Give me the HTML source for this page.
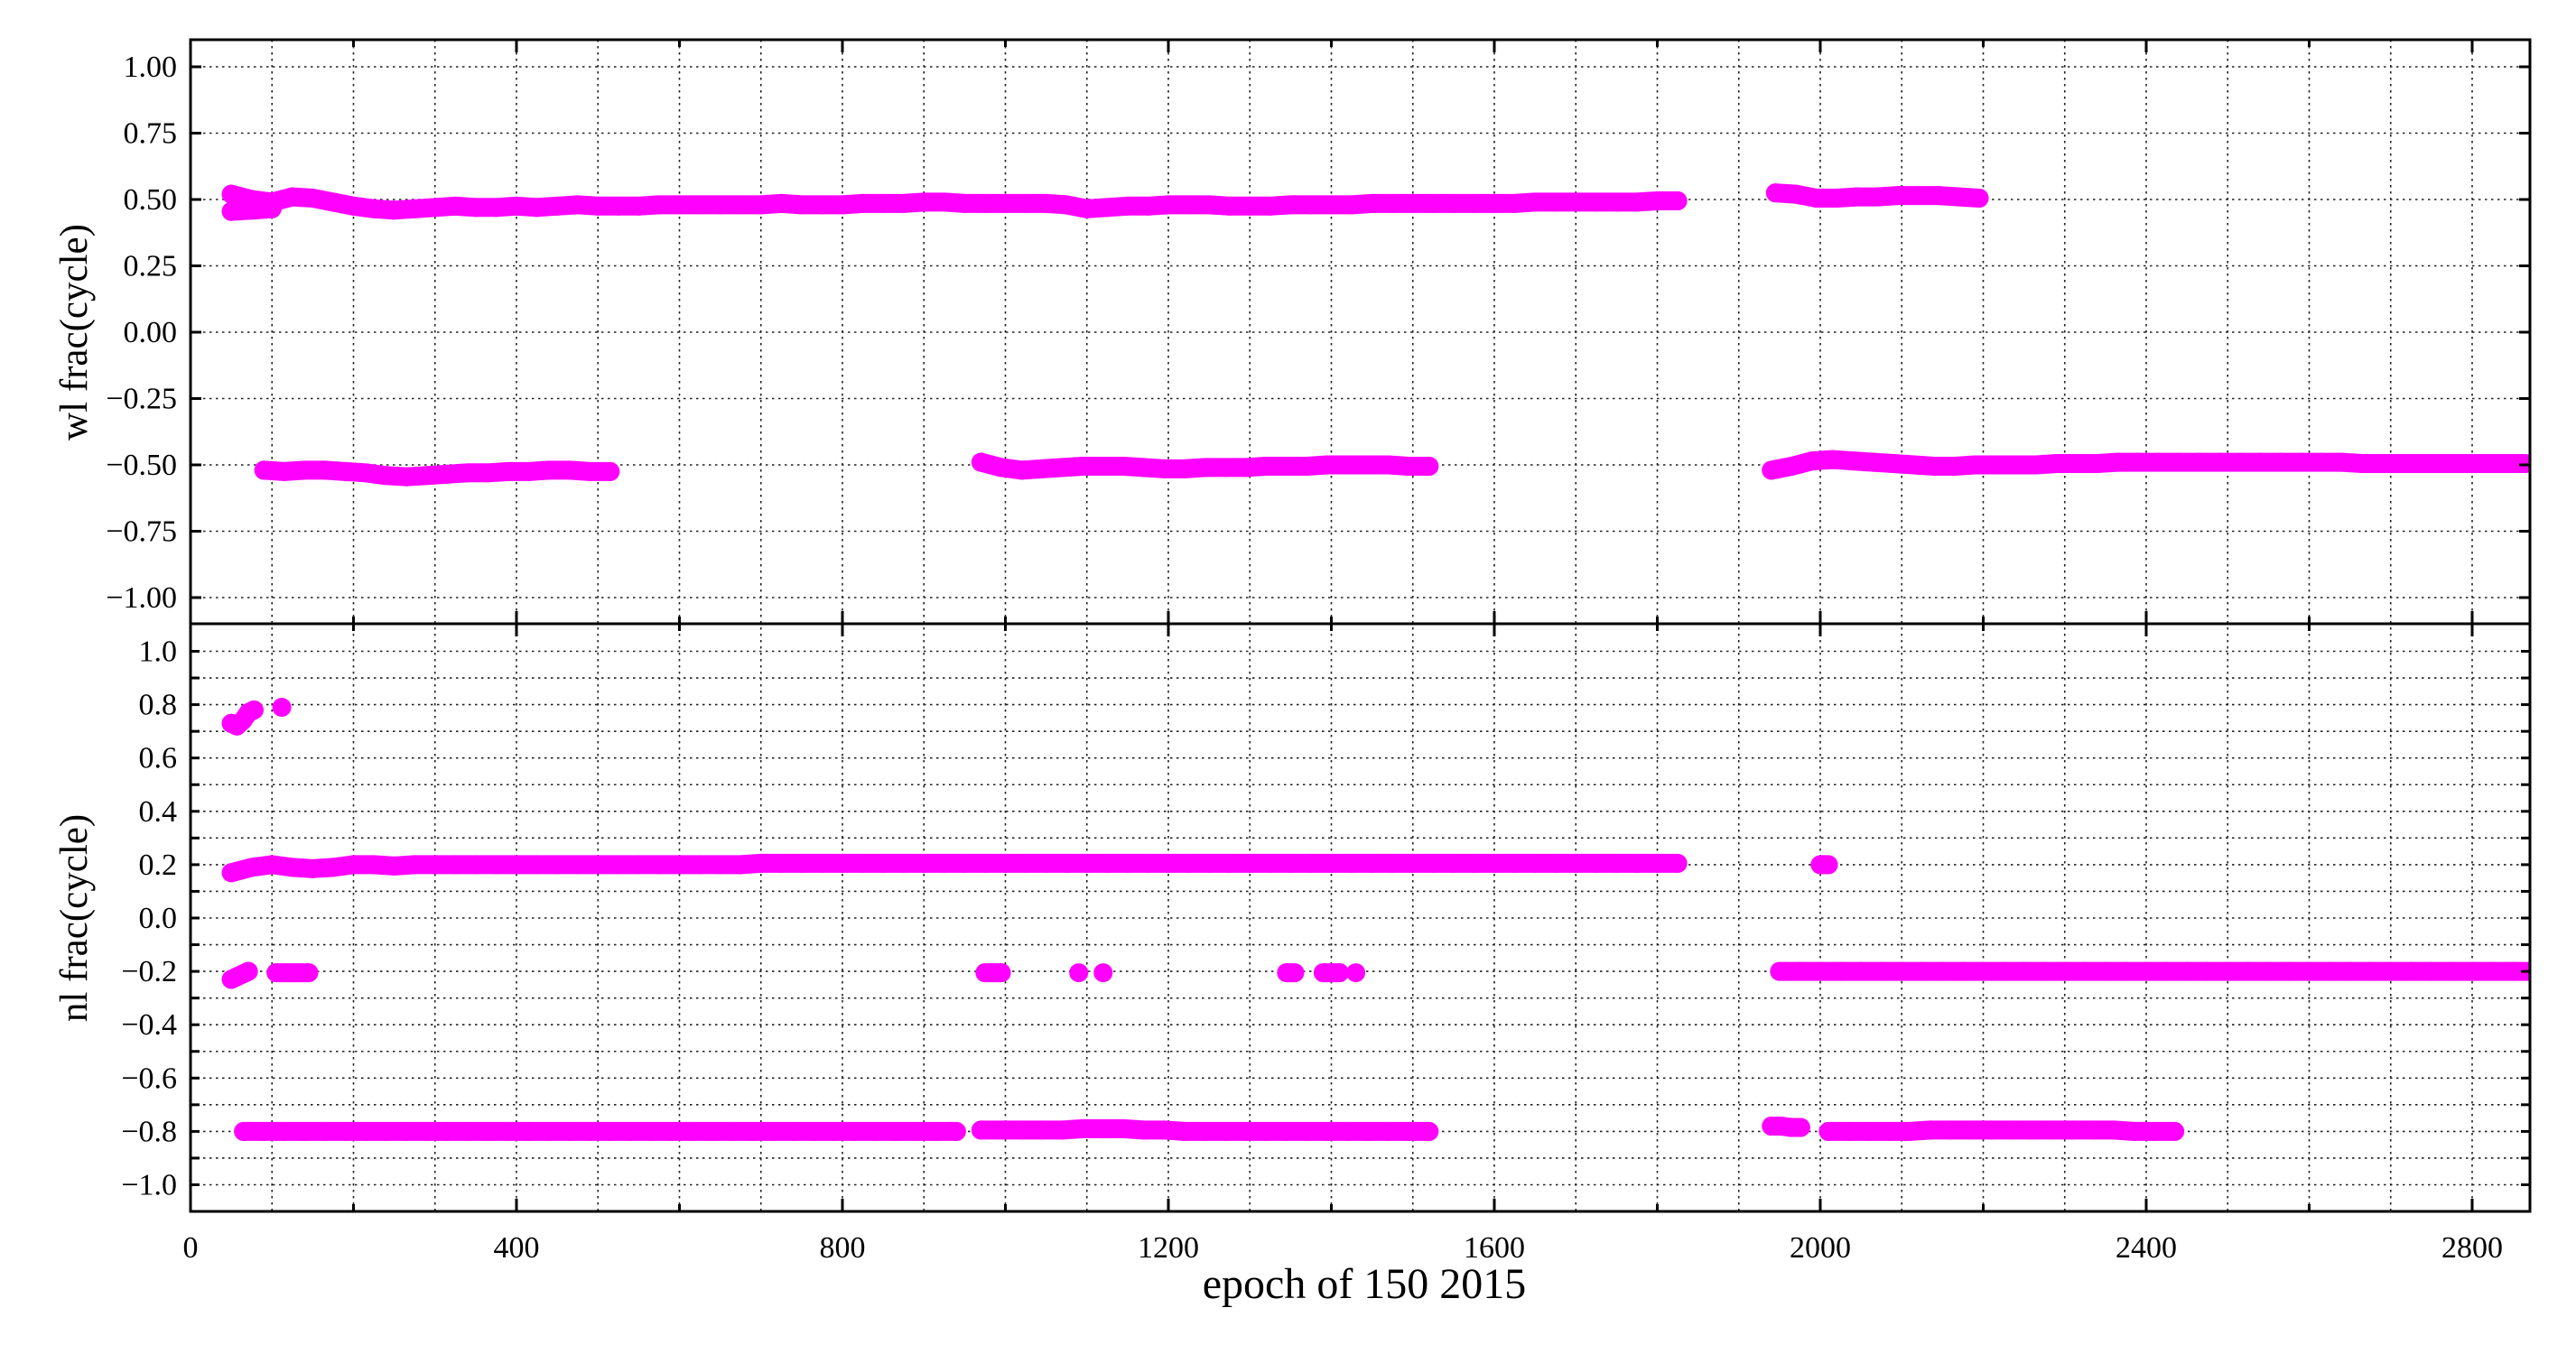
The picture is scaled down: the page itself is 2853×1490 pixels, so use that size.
<!DOCTYPE html>
<html><head><meta charset="utf-8"><style>
html,body{margin:0;padding:0;background:#fff;}
svg{display:block;font-family:"Liberation Serif","DejaVu Serif",serif;}
</style></head><body>
<svg id="chart" width="2853" height="1490" viewBox="0 0 2853 1490" xmlns="http://www.w3.org/2000/svg">
<defs><clipPath id="plotclip"><rect x="211" y="44" width="2591" height="1298"/></clipPath></defs>
<rect width="2853" height="1490" fill="#fff"/>
<g id="grid"></g>
<g id="marks" clip-path="url(#plotclip)"></g>
<g id="axes"></g>
<text x="0" y="0" transform="translate(96,368) rotate(-90)" text-anchor="middle" font-size="43">wl frac(cycle)</text>
<text x="0" y="0" transform="translate(96,1017) rotate(-90)" text-anchor="middle" font-size="43">nl frac(cycle)</text>
<text x="1511" y="1438" text-anchor="middle" font-size="48">epoch of 150 2015</text>
</svg>
<script>
// ---- data: top panel (wl) segments: start epoch, epoch step, values ----
const wlStarts=[50,50,1945,90,970,1940];
const wlSteps=[25,25,25,25,25,25];
const wlA=[0.52,0.50,0.49,0.51,0.505,0.49,0.475,0.465,0.46,0.465,0.47,0.475,0.47,0.47,0.475,0.47,0.475,0.48,0.475,0.475,
0.475,0.48,0.48,0.48,0.48,0.48,0.48,0.485,0.48,0.48,0.48,0.485,0.485,0.485,0.49,0.49,0.485,0.485,0.485,0.485,
0.485,0.48,0.465,0.47,0.475,0.475,0.48,0.48,0.48,0.475,0.475,0.475,0.48,0.48,0.48,0.48,0.485,0.485,0.485,0.485,
0.485,0.485,0.485,0.485,0.49,0.49,0.49,0.49,0.49,0.49,0.495,0.495];
const wlA2=[0.455,0.46,0.465];
const wlB=[0.525,0.52,0.505,0.505,0.51,0.51,0.515,0.515,0.515,0.51,0.505];
const wlC=[-0.52,-0.525,-0.52,-0.52,-0.525,-0.53,-0.54,-0.545,-0.54,-0.535,-0.53,-0.53,-0.525,-0.525,-0.52,-0.52,-0.525,-0.525];
const wlD=[-0.49,-0.51,-0.52,-0.515,-0.51,-0.505,-0.505,-0.505,-0.51,-0.515,-0.515,-0.51,-0.51,-0.51,-0.505,-0.505,-0.505,-0.5,-0.5,-0.5,-0.5,-0.505,-0.505];
const wlE=[-0.52,-0.505,-0.485,-0.48,-0.485,-0.49,-0.495,-0.5,-0.505,-0.505,-0.5,-0.5,-0.5,-0.5,-0.495,-0.495,-0.495,-0.49,-0.49,-0.49,-0.49,-0.49,-0.49,-0.49,-0.49,-0.49,-0.49,-0.49,-0.49,-0.495,-0.495,-0.495,-0.495,-0.495,-0.495,-0.495,-0.495,-0.495];
// ---- data: bottom panel (nl) segments ----
const nlStarts=[50,112,50,2000,50,105,975,1090,1120,1345,1390,1430,1950,65,970,1940,2010];
const nlSteps=[7,10,25,10,7,10,10,10,10,10,10,10,25,25,25,12,25];
const nlHi=[0.73,0.72,0.74,0.77,0.78];
const nlHiDot=[0.79];
const nlP2=[0.17,0.19,0.2,0.19,0.185,0.19,0.2,0.2,0.195,0.2,0.2,0.2,0.2,0.2,0.2,0.2,0.2,0.2,0.2,0.2,
0.2,0.2,0.2,0.2,0.2,0.2,0.205,0.205,0.205,0.205,0.205,0.205,0.205,0.205,0.205,0.205,0.205,0.205,0.205,0.205,
0.205,0.205,0.205,0.205,0.205,0.205,0.205,0.205,0.205,0.205,0.205,0.205,0.205,0.205,0.205,0.205,0.205,0.205,0.205,0.205,
0.205,0.205,0.205,0.205,0.205,0.205,0.205,0.205,0.205,0.205,0.205,0.205];
const nlP2b=[0.2,0.2];
const nlM2a=[-0.23,-0.22,-0.21,-0.2];
const nlM2b=[-0.205,-0.205,-0.205,-0.205,-0.205];
const nlM2c=[-0.205,-0.205,-0.205];
const nlM2d=[-0.205];
const nlM2e=[-0.205];
const nlM2f=[-0.205,-0.205];
const nlM2g=[-0.205,-0.205,-0.205];
const nlM2h=[-0.205];
const nlM2band=[-0.2,-0.2,-0.2,-0.2,-0.2,-0.2,-0.2,-0.2,-0.2,-0.2,-0.2,-0.2,-0.2,-0.2,-0.2,-0.2,-0.2,-0.2,-0.2,-0.2,-0.2,-0.2,-0.2,-0.2,-0.2,-0.2,-0.2,-0.2,-0.2,-0.2,-0.2,-0.2,-0.2,-0.2,-0.2,-0.2,-0.2,-0.2];
const nlM8a=[-0.8,-0.8,-0.8,-0.8,-0.8,-0.8,-0.8,-0.8,-0.8,-0.8,-0.8,-0.8,-0.8,-0.8,-0.8,-0.8,-0.8,-0.8,-0.8,-0.8,-0.8,-0.8,-0.8,-0.8,-0.8,-0.8,-0.8,-0.8,-0.8,-0.8,-0.8,-0.8,-0.8,-0.8,-0.8,-0.8];
const nlM8b=[-0.795,-0.795,-0.795,-0.795,-0.795,-0.79,-0.79,-0.79,-0.795,-0.795,-0.8,-0.8,-0.8,-0.8,-0.8,-0.8,-0.8,-0.8,-0.8,-0.8,-0.8,-0.8,-0.8];
const nlM8c=[-0.78,-0.78,-0.785,-0.785];
const nlM8d=[-0.8,-0.8,-0.8,-0.8,-0.8,-0.795,-0.795,-0.795,-0.795,-0.795,-0.795,-0.795,-0.795,-0.795,-0.795,-0.8,-0.8,-0.8];
// ---- tick labels ----
const xTickLabels=["0","400","800","1200","1600","2000","2400","2800"];
const topYTickLabels=["1.00","0.75","0.50","0.25","0.00","\u22120.25","\u22120.50","\u22120.75","\u22121.00"];
const botYTickLabels=["1.0","0.8","0.6","0.4","0.2","0.0","\u22120.2","\u22120.4","\u22120.6","\u22120.8","\u22121.0"];

const wlSeries=[wlA,wlA2,wlB,wlC,wlD,wlE];
const nlSeries=[nlHi,nlHiDot,nlP2,nlP2b,nlM2a,nlM2b,nlM2c,nlM2d,nlM2e,nlM2f,nlM2g,nlM2h,nlM2band,nlM8a,nlM8b,nlM8c,nlM8d];

const L=211,R=2802,T=44,M=691,B=1342;
const X=e=>L+e*0.9025;
const YT=v=>368-v*294;
const YB=v=>1017-v*295.5;
const NS="http://www.w3.org/2000/svg";
function mk(tag,parent,attrs){const el=document.createElementNS(NS,tag);for(const k in attrs)el.setAttribute(k,attrs[k]);parent.appendChild(el);return el;}
const grid=document.getElementById('grid'),marks=document.getElementById('marks'),axes=document.getElementById('axes');
const gs={stroke:"#222","stroke-width":1.6,"stroke-dasharray":"2.5 4.5"};
for(let e=100;e<=2800;e+=100){
  const g=mk('line',grid,Object.assign({x1:X(e),x2:X(e),y1:T,y2:B},gs));
  
  
}
for(let i=0;i<topYTickLabels.length;i++){
  const v=1-i*0.25,y=YT(v);
  const g=mk('line',grid,Object.assign({x1:L,x2:R,y1:y,y2:y},gs));
  
  
  mk('line',axes,{x1:L,x2:L+12,y1:y,y2:y,stroke:"#000","stroke-width":3});
  mk('line',axes,{x1:R-12,x2:R,y1:y,y2:y,stroke:"#000","stroke-width":3});
  const t=mk('text',axes,{x:196,y:y+11,"text-anchor":"end","font-size":34});
  t.textContent=topYTickLabels[i];
  
  
}
for(let k=-10;k<=10;k++){
  const v=k/10,y=YB(v);
  const g=mk('line',grid,Object.assign({x1:L,x2:R,y1:y,y2:y},gs));
  
  
  mk('line',axes,{x1:L,x2:L+10,y1:y,y2:y,stroke:"#000","stroke-width":3});
  mk('line',axes,{x1:R-10,x2:R,y1:y,y2:y,stroke:"#000","stroke-width":3});
}
for(let i=0;i<botYTickLabels.length;i++){
  const v=1-i*0.2,y=YB(v);
  const t=mk('text',axes,{x:196,y:y+11,"text-anchor":"end","font-size":34});
  t.textContent=botYTickLabels[i];
  
  
}
// data marks: dense markers rendered as a thick round-capped band through the points plus each point
function drawSeries(list,starts,steps,Y,name){
  list.forEach((vals,s)=>{
    const pts=vals.map((v,i)=>X(starts[s]+i*steps[s]).toFixed(1)+','+Y(v).toFixed(1));
    if(vals.length>1){
      const pl=mk('polyline',marks,{points:pts.join(' '),fill:"none",stroke:"#ff00ff","stroke-width":21,"stroke-linecap":"round","stroke-linejoin":"round"});
      
      
    }
    vals.forEach((v,i)=>{
      const c=mk('circle',marks,{cx:X(starts[s]+i*steps[s]),cy:Y(v),r:10.5,fill:"#ff00ff"});
      
      
    });
  });
}
drawSeries(wlSeries,wlStarts,wlSteps,YT,'wl-point');
drawSeries(nlSeries,nlStarts,nlSteps,YB,'nl-point');
// x ticks
for(let e=200;e<=2800;e+=200){
  const len=(e%400===0)?14:8,x=X(e);
  [[T,T+len],[M-len,M+len],[B-len,B]].forEach(p=>mk('line',axes,{x1:x,x2:x,y1:p[0],y2:p[1],stroke:"#000","stroke-width":3}));
}
xTickLabels.forEach((lab,i)=>{
  const t=mk('text',axes,{x:X(i*400),y:1393,"text-anchor":"middle","font-size":34});
  t.textContent=lab;
  
  
});
const f1=mk('rect',axes,{x:L,y:T,width:R-L,height:M-T,fill:"none",stroke:"#000","stroke-width":3});


const f2=mk('rect',axes,{x:L,y:M,width:R-L,height:B-M,fill:"none",stroke:"#000","stroke-width":3});


</script>
</body></html>
